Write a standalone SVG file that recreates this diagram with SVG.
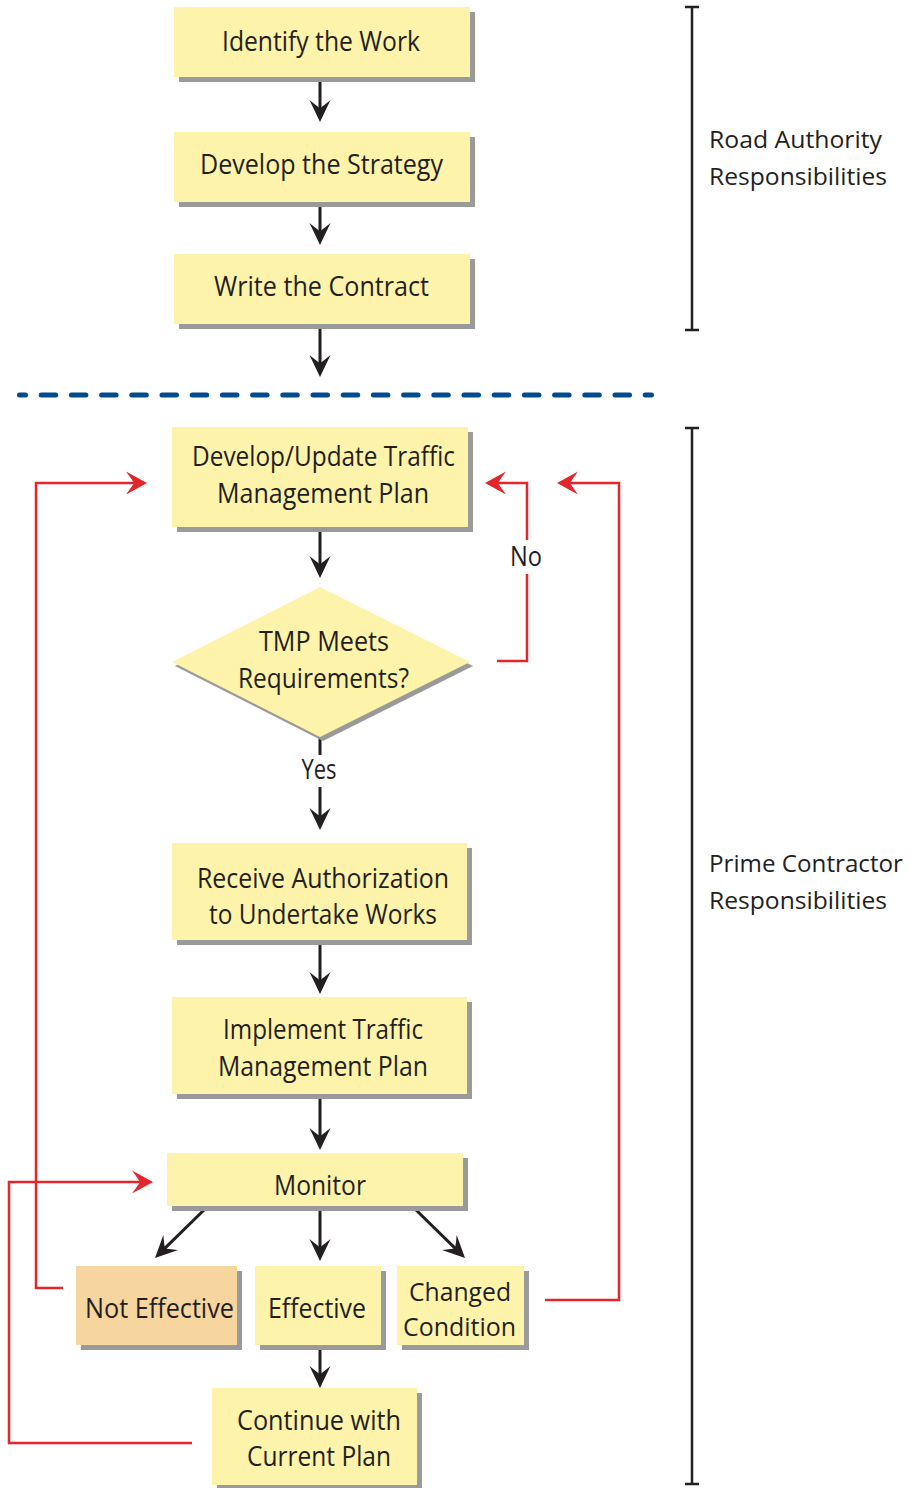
<svg xmlns="http://www.w3.org/2000/svg" width="911" height="1488" viewBox="0 0 911 1488">
<style>
.box{fill:#fef3aa}
.orange{fill:#f6d59f}
.sh{fill:#9a9a9a}
.t{font-family:"Open Sans","Noto Sans","Liberation Sans",sans-serif;font-size:28px;fill:#231f20;text-anchor:middle}
.t2{font-size:25px}
.side{font-family:"Open Sans","Noto Sans","Liberation Sans",sans-serif;font-size:24px;fill:#231f20}
.blk{stroke:#231f20;stroke-width:3;fill:none}
.red{stroke:#e3262b;stroke-width:2.5;fill:none}
.brk{stroke:#231f20;stroke-width:2.5;fill:none}
</style>
<defs>
<marker id="ab" markerUnits="userSpaceOnUse" markerWidth="40" markerHeight="40" refX="0" refY="0" orient="auto" overflow="visible" viewBox="-20 -20 40 40">
<path d="M8,0 L-14,-10.5 Q-7,-2 -6,0 Q-7,2 -14,10.5 Z" fill="#231f20"/>
</marker>
<marker id="ar" markerUnits="userSpaceOnUse" markerWidth="40" markerHeight="40" refX="0" refY="0" orient="auto" overflow="visible" viewBox="-20 -20 40 40">
<path d="M8,0 L-13,-11.5 Q-6,-2 -5,0 Q-6,2 -13,11.5 Z" fill="#e3262b"/>
</marker>
</defs>

<g id="divider">
<line x1="19.5" y1="395" x2="651.5" y2="395" stroke="#004b8d" stroke-width="5" stroke-linecap="round" stroke-dasharray="14.5 15.7" stroke-dashoffset="8.5"/>
</g>

<g id="bracket-road">
<path class="brk" d="M692,7 V330 M685,7 H699 M685,330 H699"/>
<text class="side" x="709" y="148" textLength="173" lengthAdjust="spacingAndGlyphs">Road Authority</text>
<text class="side" x="709" y="185" textLength="178" lengthAdjust="spacingAndGlyphs">Responsibilities</text>
</g>
<g id="bracket-prime">
<path class="brk" d="M692,428 V1484 M685,428 H699 M685,1484 H699"/>
<text class="side" x="709" y="872" textLength="194" lengthAdjust="spacingAndGlyphs">Prime Contractor</text>
<text class="side" x="709" y="909" textLength="178" lengthAdjust="spacingAndGlyphs">Responsibilities</text>
</g>

<g id="connectors">
<line class="blk" x1="320" y1="77" x2="320" y2="114" marker-end="url(#ab)"/>
<line class="blk" x1="320" y1="202" x2="320" y2="237" marker-end="url(#ab)"/>
<line class="blk" x1="320" y1="324" x2="320" y2="369" marker-end="url(#ab)"/>
<line class="blk" x1="320" y1="527" x2="320" y2="570" marker-end="url(#ab)"/>
<line class="blk" x1="320" y1="737" x2="320" y2="755"/>
<line class="blk" x1="320" y1="787" x2="320" y2="822" marker-end="url(#ab)"/>
<line class="blk" x1="320" y1="940" x2="320" y2="986" marker-end="url(#ab)"/>
<line class="blk" x1="320" y1="1094" x2="320" y2="1142" marker-end="url(#ab)"/>
<line class="blk" x1="207" y1="1207" x2="160.7" y2="1252.4" marker-end="url(#ab)"/>
<line class="blk" x1="320" y1="1207" x2="320" y2="1253" marker-end="url(#ab)"/>
<line class="blk" x1="413" y1="1207" x2="459.3" y2="1252.4" marker-end="url(#ab)"/>
<line class="blk" x1="320" y1="1345" x2="320" y2="1380" marker-end="url(#ab)"/>
<path class="red" d="M497,661 H527 V574"/>
<path class="red" d="M527,540 V483 H493" marker-end="url(#ar)"/>
<path class="red" d="M545,1300 H619 V483 H565" marker-end="url(#ar)"/>
<path class="red" d="M63,1288 H36 V483 H139" marker-end="url(#ar)"/>
<path class="red" d="M192,1443 H9 V1182 H145" marker-end="url(#ar)"/>
<text class="t" x="526" y="566" textLength="32" lengthAdjust="spacingAndGlyphs">No</text>
<text class="t" x="319" y="779" textLength="35" lengthAdjust="spacingAndGlyphs">Yes</text>
</g>

<g id="identify">
<rect class="sh" x="179" y="12" width="296" height="70"/>
<rect class="box" x="174" y="7" width="296" height="70"/>
<text class="t" x="321" y="51" textLength="198" lengthAdjust="spacingAndGlyphs">Identify the Work</text>
</g>
<g id="strategy">
<rect class="sh" x="179" y="137" width="296" height="70"/>
<rect class="box" x="174" y="132" width="296" height="70"/>
<text class="t" x="321.5" y="174" textLength="243" lengthAdjust="spacingAndGlyphs">Develop the Strategy</text>
</g>
<g id="contract">
<rect class="sh" x="179" y="259" width="296" height="70"/>
<rect class="box" x="174" y="254" width="296" height="70"/>
<text class="t" x="321.5" y="296" textLength="215" lengthAdjust="spacingAndGlyphs">Write the Contract</text>
</g>
<g id="develop-tmp">
<rect class="sh" x="177" y="432" width="296" height="100"/>
<rect class="box" x="172" y="427" width="296" height="100"/>
<text class="t" x="323.5" y="466" textLength="263" lengthAdjust="spacingAndGlyphs">Develop/Update Traffic</text>
<text class="t" x="323" y="503" textLength="212" lengthAdjust="spacingAndGlyphs">Management Plan</text>
</g>
<g id="decision">
<polygon class="sh" points="175,666 323,591 473,666 323,741"/>
<polygon class="box" points="172,662 320,587 470,662 320,737"/>
<text class="t" x="324" y="651" textLength="130" lengthAdjust="spacingAndGlyphs">TMP Meets</text>
<text class="t" x="323.5" y="688" textLength="171" lengthAdjust="spacingAndGlyphs">Requirements?</text>
</g>
<g id="authorization">
<rect class="sh" x="177" y="848" width="295" height="97"/>
<rect class="box" x="172" y="843" width="295" height="97"/>
<text class="t" x="323" y="888" textLength="252" lengthAdjust="spacingAndGlyphs">Receive Authorization</text>
<text class="t" x="323" y="924" textLength="228" lengthAdjust="spacingAndGlyphs">to Undertake Works</text>
</g>
<g id="implement">
<rect class="sh" x="177" y="1002" width="295" height="97"/>
<rect class="box" x="172" y="997" width="295" height="97"/>
<text class="t" x="323" y="1039" textLength="200" lengthAdjust="spacingAndGlyphs">Implement Traffic</text>
<text class="t" x="323" y="1076" textLength="210" lengthAdjust="spacingAndGlyphs">Management Plan</text>
</g>
<g id="monitor">
<rect class="sh" x="172" y="1158" width="296" height="53"/>
<rect class="box" x="167" y="1153" width="296" height="53"/>
<text class="t" x="320" y="1195" textLength="92" lengthAdjust="spacingAndGlyphs">Monitor</text>
</g>
<g id="not-effective">
<rect class="sh" x="81" y="1271" width="161" height="79"/>
<rect class="orange" x="76" y="1266" width="161" height="79"/>
<text class="t" x="159.5" y="1318" textLength="149" lengthAdjust="spacingAndGlyphs">Not Effective</text>
</g>
<g id="effective">
<rect class="sh" x="260" y="1271" width="126" height="79"/>
<rect class="box" x="255" y="1266" width="126" height="79"/>
<text class="t" x="317" y="1318" textLength="98" lengthAdjust="spacingAndGlyphs">Effective</text>
</g>
<g id="changed">
<rect class="sh" x="402" y="1271" width="127" height="79"/>
<rect class="box" x="397" y="1266" width="127" height="79"/>
<text class="t t2" x="460" y="1301" textLength="102" lengthAdjust="spacingAndGlyphs">Changed</text>
<text class="t t2" x="459.5" y="1336" textLength="113" lengthAdjust="spacingAndGlyphs">Condition</text>
</g>
<g id="continue">
<rect class="sh" x="217" y="1393" width="205" height="97"/>
<rect class="box" x="212" y="1388" width="205" height="97"/>
<text class="t" x="319" y="1430" textLength="164" lengthAdjust="spacingAndGlyphs">Continue with</text>
<text class="t" x="319" y="1466" textLength="144" lengthAdjust="spacingAndGlyphs">Current Plan</text>
</g>
</svg>
